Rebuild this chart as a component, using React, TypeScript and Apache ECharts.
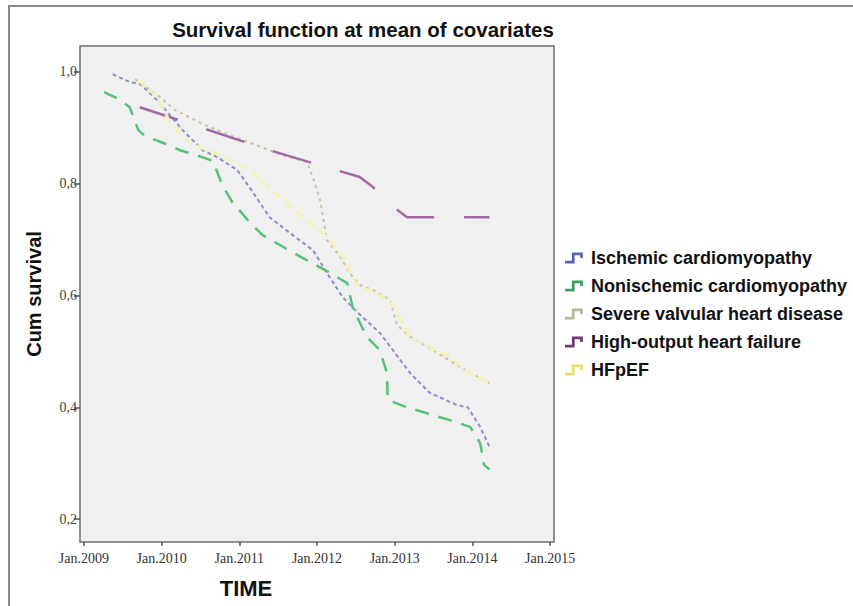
import React, { useEffect, useRef } from "react";
import * as echarts from "echarts";

const seriesNames = [
  "Ischemic cardiomyopathy",
  "Nonischemic cardiomyopathy",
  "Severe valvular heart disease",
  "High-output heart failure",
  "HFpEF",
];

const ischemicTime = [2009.37, 2009.59, 2009.72, 2009.94, 2010.07, 2010.27, 2010.53, 2010.71, 2010.97, 2011.14, 2011.39, 2011.65, 2011.95, 2012.13, 2012.33, 2012.49, 2012.81, 2013.2, 2013.45, 2013.8, 2013.94, 2014.1, 2014.22];
const ischemicSurv = [0.996, 0.982, 0.979, 0.95, 0.929, 0.896, 0.86, 0.848, 0.825, 0.792, 0.74, 0.712, 0.681, 0.64, 0.597, 0.574, 0.533, 0.461, 0.426, 0.404, 0.4, 0.365, 0.329];

const nonischemicTime = [2009.26, 2009.44, 2009.59, 2009.7, 2009.79, 2010.02, 2010.24, 2010.45, 2010.66, 2010.78, 2010.91, 2011.14, 2011.3, 2011.59, 2011.82, 2012.2, 2012.39, 2012.46, 2012.64, 2012.81, 2012.9, 2012.91, 2013.16, 2013.71, 2013.97, 2014.1, 2014.15, 2014.22];
const nonischemicSurv = [0.964, 0.952, 0.937, 0.896, 0.885, 0.873, 0.86, 0.851, 0.841, 0.798, 0.767, 0.73, 0.708, 0.685, 0.667, 0.638, 0.622, 0.578, 0.526, 0.502, 0.461, 0.413, 0.4, 0.377, 0.365, 0.336, 0.297, 0.289];

const valvularTime = [2009.66, 2009.98, 2010.17, 2010.56, 2011.01, 2011.56, 2011.87, 2011.95, 2012.04, 2012.13, 2012.3, 2012.42, 2012.55, 2012.75, 2012.94, 2013.03, 2013.2, 2013.39, 2013.84, 2014.22];
const valvularSurv = [0.987, 0.955, 0.932, 0.905, 0.88, 0.851, 0.839, 0.81, 0.771, 0.699, 0.669, 0.64, 0.619, 0.608, 0.592, 0.547, 0.526, 0.511, 0.472, 0.443];

const highOutputTime = [2009.72, 2011.39, 2012.55, 2012.72, 2013.0, 2013.16, 2014.22];
const highOutputSurv = [0.937, 0.86, 0.812, 0.794, 0.757, 0.74, 0.74];

const hfpefTime = [2009.7, 2009.94, 2010.11, 2010.36, 2010.75, 2011.14, 2011.56, 2011.91, 2012.13, 2012.33, 2012.51, 2012.77, 2012.98, 2013.2, 2013.45, 2013.71, 2013.97, 2014.22];
const hfpefSurv = [0.986, 0.955, 0.909, 0.873, 0.851, 0.825, 0.771, 0.73, 0.705, 0.669, 0.619, 0.604, 0.583, 0.524, 0.508, 0.49, 0.461, 0.443];

const xTickValues = [2009, 2010, 2011, 2012, 2013, 2014, 2015];
const xTickLabels = ["Jan.2009", "Jan.2010", "Jan.2011", "Jan.2012", "Jan.2013", "Jan.2014", "Jan.2015"];
const yTickValues = [0.2, 0.4, 0.6, 0.8, 1.0];
const yTickLabels = ["0,2", "0,4", "0,6", "0,8", "1,0"];

const lineColors = ["#8e90cc", "#55c278", "#c6c2a4", "#a468a8", "#f3f1b6"];
const legendColors = ["#5565b5", "#3d9d5e", "#bab69a", "#6e3d70", "#e8e066"];
const dashes: any[] = [[4, 3], [14, 10], [3, 4], [40, 30], [10, 5]];
const widths = [2, 2.5, 2, 2.5, 3];

const SANS = "'Liberation Sans', Arial, sans-serif";
const SERIF = "'Liberation Serif', 'Times New Roman', serif";

const stepIcon = "path://M0,7 L5,7 L5,1 L13,1 L13,5 L11,5 L11,3 L7,3 L7,9 L0,9 Z";

function pairs(t: number[], s: number[]) {
  return t.map((v, i) => [v, s[i]]);
}

export default function App() {
  const ref = useRef<HTMLDivElement>(null);
  useEffect(() => {
    if (!ref.current) return;
    const chart = echarts.init(ref.current, null, { renderer: "svg" });
    const allData = [
      pairs(ischemicTime, ischemicSurv),
      pairs(nonischemicTime, nonischemicSurv),
      pairs(valvularTime, valvularSurv),
      pairs(highOutputTime, highOutputSurv),
      pairs(hfpefTime, hfpefSurv),
    ];
    chart.setOption({
      animation: false,
      backgroundColor: "#ffffff",
      title: {
        text: "Survival function at mean of covariates",
        left: 358,
        top: 14,
        textAlign: "center",
        textStyle: { fontFamily: SANS, fontWeight: "bold", fontSize: 20.5, color: "#111" },
      },
      grid: {
        left: 80,
        top: 46,
        right: 299,
        bottom: 64,
        show: true,
        backgroundColor: "#f0f0f0",
        borderColor: "#6e6e6e",
        borderWidth: 1.5,
      },
      legend: {
        orient: "vertical",
        left: 560,
        top: 244,
        itemGap: 10,
        itemWidth: 24,
        itemHeight: 11,
        icon: stepIcon,
        itemStyle: { borderWidth: 0 },
        textStyle: { fontFamily: SANS, fontWeight: "bold", fontSize: 18, color: "#111" },
        data: seriesNames.map((n, i) => ({ name: n, itemStyle: { color: legendColors[i] } })),
      },
      xAxis: {
        type: "value",
        min: 2008.95,
        max: 2015.05,
        splitLine: { show: false },
        axisLine: { show: false },
        axisTick: { show: true, customValues: xTickValues, length: 4, lineStyle: { color: "#555", width: 1.5 } },
        axisLabel: {
          customValues: xTickValues,
          formatter: (v: number) => xTickLabels[xTickValues.indexOf(Math.round(v))] ?? "",
          fontFamily: SERIF,
          fontSize: 14,
          color: "#333",
          margin: 9,
        },
      },
      yAxis: {
        type: "value",
        min: 0.159,
        max: 1.0465,
        name: "Cum survival",
        nameLocation: "middle",
        nameRotate: 90,
        nameGap: 36,
        nameTextStyle: { fontFamily: SANS, fontWeight: "bold", fontSize: 20, color: "#111" },
        splitLine: { show: false },
        axisLine: { show: false },
        axisTick: { show: true, customValues: yTickValues, length: 6, lineStyle: { color: "#555", width: 1.5 } },
        axisLabel: {
          customValues: yTickValues,
          formatter: (v: number) => {
            const i = yTickValues.findIndex((t) => Math.abs(t - v) < 1e-6);
            return i >= 0 ? yTickLabels[i] : "";
          },
          fontFamily: SERIF,
          fontSize: 14,
          color: "#444",
          margin: 3,
        },
      },
      graphic: [
        {
          type: "rect",
          shape: { x: 9, y: 6, width: 900, height: 700 },
          style: { fill: "none", stroke: "#8a8a8a", lineWidth: 2 },
          silent: true,
        },
        {
          type: "text",
          x: 246,
          y: 588,
          style: {
            text: "TIME",
            fontFamily: SANS,
            fontWeight: "bold",
            fontSize: 22,
            fill: "#111",
            textAlign: "center",
            textVerticalAlign: "middle",
          },
        },
      ],
      series: allData.map((d, i) => ({
        name: seriesNames[i],
        type: "line",
        data: d,
        showSymbol: false,
        symbol: "none",
        itemStyle: { color: legendColors[i] },
        lineStyle: { color: lineColors[i], width: widths[i], type: dashes[i] },
        z: 2 + i,
      })),
    });
    return () => chart.dispose();
  }, []);
  return <div ref={ref} style={{ position: "fixed", left: 0, top: 0, width: 853, height: 606 }} />;
}
